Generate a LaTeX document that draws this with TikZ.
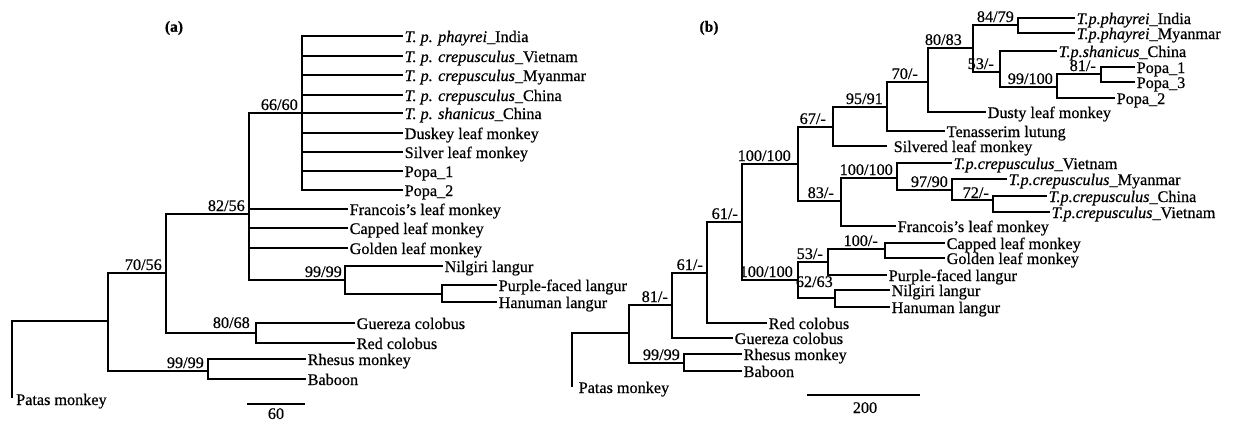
\documentclass[tikz,border=0pt]{standalone}
\usepackage{fontspec}
\setmainfont{Liberation Serif}[FakeBold=0.6]
\begin{document}
\begin{tikzpicture}[x=1pt,y=-1pt,
  every node/.style={font=\fontsize{16.2pt}{19pt}\selectfont},
  br/.style={line width=2.3pt},
  tiplab/.style={anchor=base west, inner sep=0pt, xshift=1.5pt, yshift=-6pt},
  bslab/.style={anchor=base east, inner sep=0pt, xshift=-4pt, yshift=3pt},
  panlab/.style={font=\fontsize{15.5pt}{18pt}\selectfont\bfseries}]
\useasboundingbox (0,0) rectangle (1234,424);

% ================= panel (a) =================
\node[panlab] (pa) at (174,28) {(a)};
\coordinate (aR) at (108,321);
\coordinate (aP) at (12,398);
\coordinate (a7056) at (166,273);
\coordinate (a8256) at (249,214);
\coordinate (a6660) at (302,113);
\coordinate (aT1) at (403,36);
\coordinate (aT2) at (403,56);
\coordinate (aT3) at (403,75);
\coordinate (aT4) at (403,95);
\coordinate (aT5) at (403,113);
\coordinate (aT6) at (403,133);
\coordinate (aT7) at (403,152);
\coordinate (aT8) at (403,171);
\coordinate (aT9) at (403,190);
\coordinate (aFr) at (348,209);
\coordinate (aCa) at (348,228);
\coordinate (aGo) at (348,248);
\coordinate (a9999) at (345,280);
\coordinate (aNi) at (443,266);
\coordinate (aPH) at (442,294);
\coordinate (aPu) at (497,285);
\coordinate (aHa) at (497,302);
\coordinate (a8068) at (256,333);
\coordinate (aGu) at (355,323);
\coordinate (aRe) at (355,343);
\coordinate (a9999b) at (208,371);
\coordinate (aRh) at (306,359);
\coordinate (aBa) at (306,379);

\draw[br] (aR) -| (aP);
\foreach \c in {a7056,a9999b} \draw[br] (aR) |- (\c);
\foreach \c in {a8256,a8068} \draw[br] (a7056) |- (\c);
\foreach \c in {a6660,aFr,aCa,aGo,a9999} \draw[br] (a8256) |- (\c);
\foreach \c in {aT1,aT2,aT3,aT4,aT5,aT6,aT7,aT8,aT9} \draw[br] (a6660) |- (\c);
\foreach \c in {aNi,aPH} \draw[br] (a9999) |- (\c);
\foreach \c in {aPu,aHa} \draw[br] (aPH) |- (\c);
\foreach \c in {aGu,aRe} \draw[br] (a8068) |- (\c);
\foreach \c in {aRh,aBa} \draw[br] (a9999b) |- (\c);

\node[tiplab] (laT1) at (aT1) {\textit{T. p. phayrei}\_India};
\node[tiplab] (laT2) at (aT2) {\textit{T. p. crepusculus}\_Vietnam};
\node[tiplab] (laT3) at (aT3) {\textit{T. p. crepusculus}\_Myanmar};
\node[tiplab] (laT4) at (aT4) {\textit{T. p. crepusculus}\_China};
\node[tiplab] (laT5) at (aT5) {\textit{T. p. shanicus}\_China};
\node[tiplab] (laT6) at (aT6) {Duskey leaf monkey};
\node[tiplab] (laT7) at (aT7) {Silver leaf monkey};
\node[tiplab] (laT8) at (aT8) {Popa\_1};
\node[tiplab] (laT9) at (aT9) {Popa\_2};
\node[tiplab] (laFr) at (aFr) {Francois's leaf monkey};
\node[tiplab] (laCa) at (aCa) {Capped leaf monkey};
\node[tiplab] (laGo) at (aGo) {Golden leaf monkey};
\node[tiplab] (laNi) at (aNi) {Nilgiri langur};
\node[tiplab] (laPu) at (aPu) {Purple-faced langur};
\node[tiplab] (laHa) at (aHa) {Hanuman langur};
\node[tiplab] (laGu) at (aGu) {Guereza colobus};
\node[tiplab] (laRe) at (aRe) {Red colobus};
\node[tiplab] (laRh) at (aRh) {Rhesus monkey};
\node[tiplab] (laBa) at (aBa) {Baboon};
\node[tiplab, xshift=2.5pt, yshift=-1pt] (laP) at (aP) {Patas monkey};

\node[bslab] (sa1) at (a6660) {66/60};
\node[bslab] (sa2) at (a8256) {82/56};
\node[bslab] (sa3) at (a7056) {70/56};
\node[bslab, xshift=-2pt, yshift=2pt] (sa4) at (a8068) {80/68};
\node[bslab, xshift=1pt] (sa5) at (a9999) {99/99};
\node[bslab] (sa6) at (a9999b) {99/99};

\coordinate (aS1) at (247,404);
\coordinate (aS2) at (305,404);
\draw[br] (aS1) -- (aS2);
\node[anchor=base, inner sep=0pt] (aSl) at (276,419) {60};

% ================= panel (b) =================
\node[panlab] (pb) at (709,28) {(b)};
\coordinate (bR) at (629,333);
\coordinate (bP) at (572,387);
\coordinate (b81) at (672,305);
\coordinate (b61b) at (707,273);
\coordinate (bRe) at (767,323);
\coordinate (bGu) at (733,338);
\coordinate (b99) at (684,363);
\coordinate (bRh) at (742,354);
\coordinate (bBa) at (742,371);
\coordinate (b61a) at (742,222);
\coordinate (b100a) at (798,164);
\coordinate (b67) at (833,127);
\coordinate (b9591) at (887,107);
\coordinate (b70) at (928,82);
\coordinate (b8083) at (973,48);
\coordinate (b8479) at (1018,25);
\coordinate (bIn) at (1075,18);
\coordinate (bMy) at (1075,33);
\coordinate (b53a) at (1000,72);
\coordinate (bSh) at (1057,51);
\coordinate (b99100) at (1057,87);
\coordinate (b81b) at (1101,74);
\coordinate (bP1) at (1135,67);
\coordinate (bP3) at (1135,82);
\coordinate (bP2) at (1115,98);
\coordinate (bDu) at (986,112);
\coordinate (bTe) at (945,131);
\coordinate (bSi) at (887,146);
\coordinate (b83) at (841,201);
\coordinate (b100in) at (897,178);
\coordinate (bV1) at (952,163);
\coordinate (b9790) at (952,190);
\coordinate (bCM) at (1007,179);
\coordinate (b72) at (993,200);
\coordinate (bCC) at (1047,196);
\coordinate (bV2) at (1050,212);
\coordinate (bFr) at (896,226);
\coordinate (b100b) at (798,280);
\coordinate (b53b) at (828,262);
\coordinate (b100m) at (885,249);
\coordinate (bCa) at (945,243);
\coordinate (bGo) at (945,258);
\coordinate (bPu) at (887,275);
\coordinate (b6263) at (835,298);
\coordinate (bNi) at (890,290);
\coordinate (bHa) at (890,307);

\draw[br] (bR) -| (bP);
\foreach \c in {b81,b99} \draw[br] (bR) |- (\c);
\foreach \c in {b61b,bGu} \draw[br] (b81) |- (\c);
\foreach \c in {b61a,bRe} \draw[br] (b61b) |- (\c);
\foreach \c in {b100a,b100b} \draw[br] (b61a) |- (\c);
\foreach \c in {b67,b83} \draw[br] (b100a) |- (\c);
\foreach \c in {b9591,bSi} \draw[br] (b67) |- (\c);
\foreach \c in {b70,bTe} \draw[br] (b9591) |- (\c);
\foreach \c in {b8083,bDu} \draw[br] (b70) |- (\c);
\foreach \c in {b8479,b53a} \draw[br] (b8083) |- (\c);
\foreach \c in {bIn,bMy} \draw[br] (b8479) |- (\c);
\foreach \c in {bSh,b99100} \draw[br] (b53a) |- (\c);
\foreach \c in {b81b,bP2} \draw[br] (b99100) |- (\c);
\foreach \c in {bP1,bP3} \draw[br] (b81b) |- (\c);
\foreach \c in {b100in,bFr} \draw[br] (b83) |- (\c);
\foreach \c in {bV1,b9790} \draw[br] (b100in) |- (\c);
\foreach \c in {bCM,b72} \draw[br] (b9790) |- (\c);
\foreach \c in {bCC,bV2} \draw[br] (b72) |- (\c);
\foreach \c in {b53b,b6263} \draw[br] (b100b) |- (\c);
\foreach \c in {b100m,bPu} \draw[br] (b53b) |- (\c);
\foreach \c in {bCa,bGo} \draw[br] (b100m) |- (\c);
\foreach \c in {bNi,bHa} \draw[br] (b6263) |- (\c);
\foreach \c in {bRh,bBa} \draw[br] (b99) |- (\c);

\node[tiplab] (lbIn) at (bIn) {\textit{T.p.phayrei}\_India};
\node[tiplab] (lbMy) at (bMy) {\textit{T.p.phayrei}\_Myanmar};
\node[tiplab] (lbSh) at (bSh) {\textit{T.p.shanicus}\_China};
\node[tiplab] (lbP1) at (bP1) {Popa\_1};
\node[tiplab] (lbP3) at (bP3) {Popa\_3};
\node[tiplab] (lbP2) at (bP2) {Popa\_2};
\node[tiplab] (lbDu) at (bDu) {Dusty leaf monkey};
\node[tiplab] (lbTe) at (bTe) {Tenasserim lutung};
\node[tiplab, xshift=5pt] (lbSi) at (bSi) {Silvered leaf monkey};
\node[tiplab] (lbV1) at (bV1) {\textit{T.p.crepusculus}\_Vietnam};
\node[tiplab] (lbCM) at (bCM) {\textit{T.p.crepusculus}\_Myanmar};
\node[tiplab] (lbCC) at (bCC) {\textit{T.p.crepusculus}\_China};
\node[tiplab] (lbV2) at (bV2) {\textit{T.p.crepusculus}\_Vietnam};
\node[tiplab] (lbFr) at (bFr) {Francois's leaf monkey};
\node[tiplab] (lbCa) at (bCa) {Capped leaf monkey};
\node[tiplab] (lbGo) at (bGo) {Golden leaf monkey};
\node[tiplab] (lbPu) at (bPu) {Purple-faced langur};
\node[tiplab] (lbNi) at (bNi) {Nilgiri langur};
\node[tiplab] (lbHa) at (bHa) {Hanuman langur};
\node[tiplab] (lbRe) at (bRe) {Red colobus};
\node[tiplab] (lbGu) at (bGu) {Guereza colobus};
\node[tiplab] (lbRh) at (bRh) {Rhesus monkey};
\node[tiplab] (lbBa) at (bBa) {Baboon};
\node[tiplab, xshift=5pt] (lbP) at (bP) {Patas monkey};

\node[bslab] (sb1) at (b8479) {84/79};
\node[bslab, xshift=-7pt] (sb2) at (b8083) {80/83};
\node[bslab, xshift=-2pt] (sb3) at (b53a) {53/-};
\node[bslab] (sb4) at (b99100) {99/100};
\node[bslab, xshift=-1pt] (sb5) at (b81b) {81/-};
\node[bslab, xshift=-6pt] (sb6) at (b70) {70/-};
\node[bslab] (sb7) at (b9591) {95/91};
\node[bslab, xshift=-3pt] (sb8) at (b67) {67/-};
\node[bslab, xshift=-3pt] (sb9) at (b100a) {100/100};
\node[bslab, xshift=-3pt] (sb10) at (b83) {83/-};
\node[bslab] (sb11) at (b100in) {100/100};
\node[bslab] (sb12) at (b9790) {97/90};
\node[bslab, yshift=-1pt] (sb13) at (b72) {72/-};
\node[bslab] (sb14) at (b61a) {61/-};
\node[bslab, xshift=-1pt] (sb15) at (b100b) {100/100};
\node[bslab, xshift=-1pt] (sb16) at (b53b) {53/-};
\node[bslab, xshift=-3pt] (sb17) at (b100m) {100/-};
\node[bslab, xshift=2pt, yshift=8pt] (sb18) at (b6263) {62/63};
\node[bslab] (sb19) at (b61b) {61/-};
\node[bslab] (sb20) at (b81) {81/-};
\node[bslab] (sb21) at (b99) {99/99};

\coordinate (bS1) at (807,395);
\coordinate (bS2) at (920,395);
\draw[br] (bS1) -- (bS2);
\node[anchor=base, inner sep=0pt] (bSl) at (865,413) {200};
\end{tikzpicture}
\end{document}
